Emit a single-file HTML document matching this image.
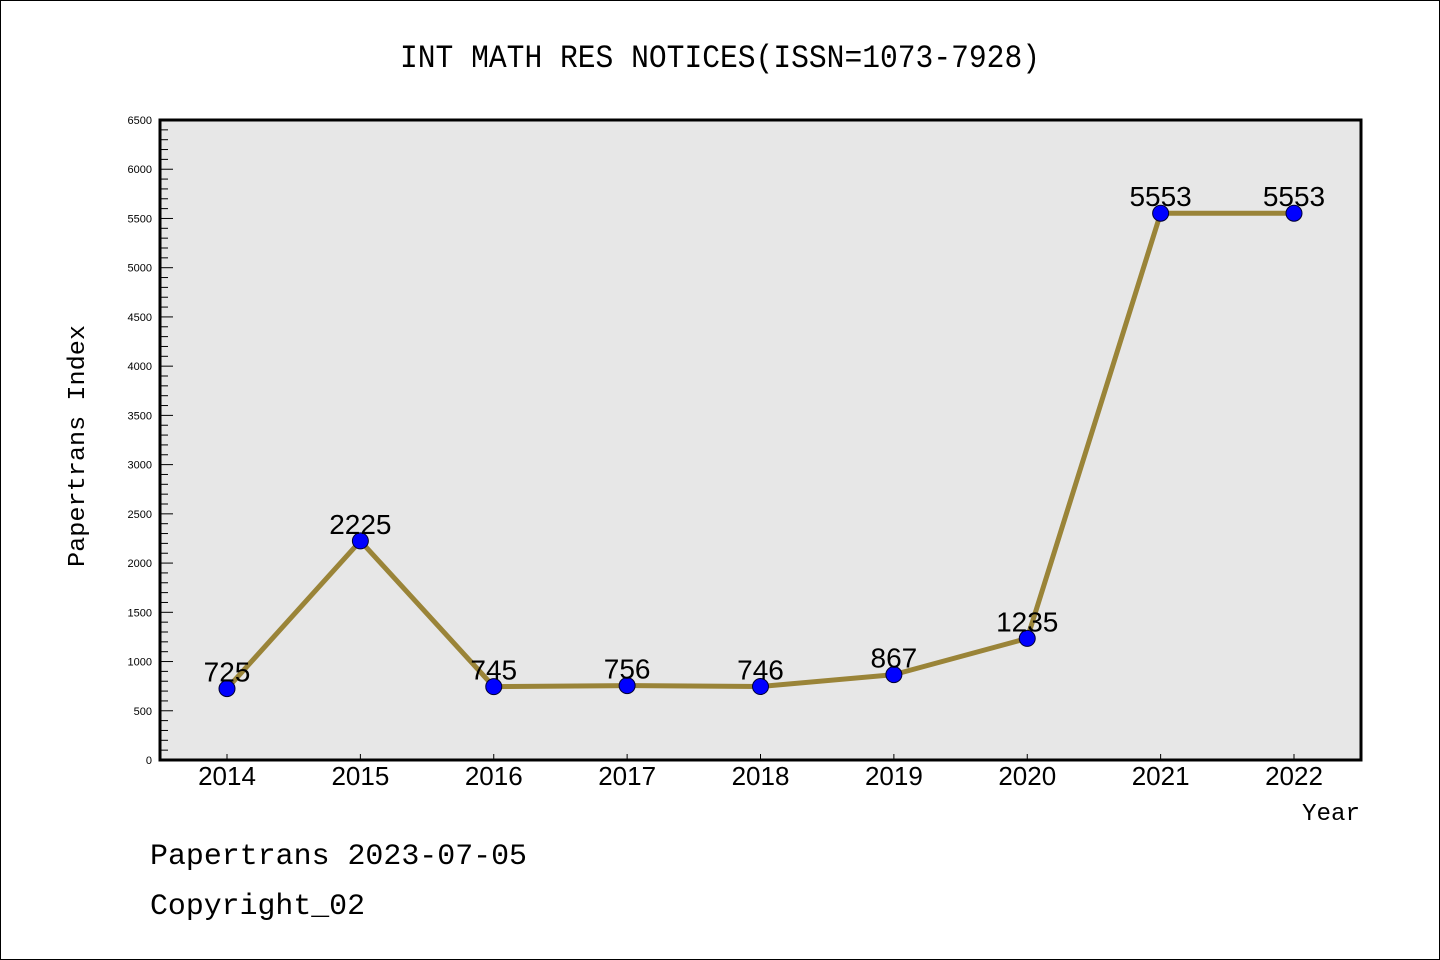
<!DOCTYPE html>
<html><head><meta charset="utf-8"><style>
html,body{margin:0;padding:0;background:#fff;}
svg{display:block;}
</style></head><body>
<svg id="chart" width="1440" height="960" xmlns="http://www.w3.org/2000/svg">
<rect x="0.5" y="0.5" width="1439" height="959" fill="#fff" stroke="#000" stroke-width="1"/>
<text x="400" y="67" font-family="Liberation Mono, monospace" font-size="32" textLength="640" lengthAdjust="spacingAndGlyphs">INT MATH RES NOTICES(ISSN=1073-7928)</text>
<rect x="160" y="120" width="1201" height="640" fill="#e7e7e7"/>
<g id="yticks"></g>
<g id="xticks"></g>
<g id="series"></g>
<rect x="160" y="120" width="1201" height="640" fill="none" stroke="#000" stroke-width="3"/>
<text transform="translate(84,446) rotate(-90)" text-anchor="middle" font-family="Liberation Mono, monospace" font-size="24" textLength="242" lengthAdjust="spacingAndGlyphs">Papertrans Index</text>
<text x="1302" y="820" font-family="Liberation Mono, monospace" font-size="24" textLength="58" lengthAdjust="spacingAndGlyphs">Year</text>
<text x="150" y="864" font-family="Liberation Mono, monospace" font-size="30" textLength="377" lengthAdjust="spacingAndGlyphs">Papertrans 2023-07-05</text>
<text x="150" y="914" font-family="Liberation Mono, monospace" font-size="30" textLength="215" lengthAdjust="spacingAndGlyphs">Copyright_02</text>
</svg>
<script>
const years = ['2014','2015','2016','2017','2018','2019','2020','2021','2022'];
const values = [725,2225,745,756,746,867,1235,5553,5553];
const yTickLabels = ['0','500','1000','1500','2000','2500','3000','3500','4000','4500','5000','5500','6000','6500'];
const NS='http://www.w3.org/2000/svg';
const X0=160,X1=1361,Y0=760,Y1=120,YMAX=6500;
function xs(i){return 227+i*(1294-227)/(years.length-1);}
function ys(v){return Y0-(v/YMAX)*(Y0-Y1);}
function mk(tag,attrs,parent){const e=document.createElementNS(NS,tag);for(const k in attrs)e.setAttribute(k,attrs[k]);parent.appendChild(e);return e;}
const yt=document.getElementById('yticks');
for(let v=0;v<=YMAX;v+=100){
  const major=v%500===0;
  const l=mk('line',{x1:X0,x2:X0+(major?13:8),y1:ys(v),y2:ys(v),stroke:'#000','stroke-width':1},yt);
  
  
}
yTickLabels.forEach(s=>{
  const t=mk('text',{x:152,y:ys(+s)+4,'text-anchor':'end','font-family':'Liberation Sans, sans-serif','font-size':11},yt);
  
  
  t.textContent=s;
});
const xt=document.getElementById('xticks');
years.forEach((y,i)=>{
  const l=mk('line',{x1:xs(i),x2:xs(i),y1:Y0,y2:Y0-6,stroke:'#000','stroke-width':1},xt);
  
  
  const t=mk('text',{x:xs(i),y:785,'text-anchor':'middle','font-family':'Liberation Sans, sans-serif','font-size':26},xt);
  
  
  t.textContent=y;
});
const sg=document.getElementById('series');
const pts=values.map((v,i)=>xs(i)+','+ys(v)).join(' ');
const pl=mk('polyline',{points:pts,fill:'none',stroke:'#9a8438','stroke-width':5,'stroke-linejoin':'round'},sg);


values.forEach((v,i)=>{
  const c=mk('circle',{cx:xs(i),cy:ys(v),r:8,fill:'#0000ff',stroke:'#000033','stroke-width':1},sg);
  
  
  const t=mk('text',{x:xs(i),y:ys(v)-7,'text-anchor':'middle','font-family':'Liberation Sans, sans-serif','font-size':28},sg);
  
  
  t.textContent=v;
});
</script>
</body></html>
